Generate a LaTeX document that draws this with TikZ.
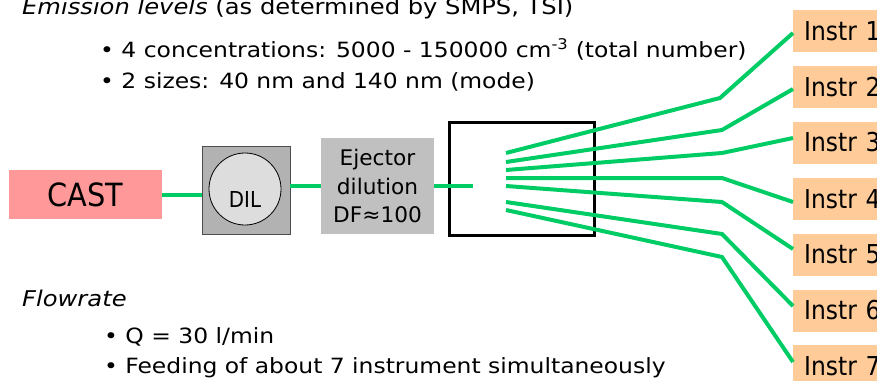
\documentclass[tikz,border=0pt]{standalone}
\usepackage{fontspec}
\setmainfont{DejaVu Sans Condensed}
\newfontfamily\widefont{DejaVu Sans Condensed}[FakeStretch=1.24]
\newfontfamily\midfont{DejaVu Sans Condensed}[FakeStretch=1.12]
\definecolor{pipe}{RGB}{0,204,102}
\definecolor{castpink}{RGB}{255,153,153}
\definecolor{dilgray}{RGB}{178,178,178}
\definecolor{circgray}{RGB}{221,221,221}
\definecolor{ejgray}{RGB}{192,192,192}
\definecolor{instrcol}{RGB}{255,204,153}
\tikzset{
  pipeline/.style={draw=pipe, line width=4pt},
  txt/.style={anchor=base west, inner sep=0pt, font=\widefont\fontsize{21}{24}\selectfont},
  instrbox/.style={fill=instrcol, anchor=west, minimum width=95pt, minimum height=42pt,
     text width=95pt, align=left, inner xsep=0pt, inner ysep=0pt,
     font=\fontsize{26}{28}\selectfont},
}
\begin{document}
\begin{tikzpicture}[x=1pt,y=-1pt]
\useasboundingbox (0,0) rectangle (877,380);
% texts
\node[txt, font=\widefont\fontsize{21.7}{24}\selectfont] (t1) at (22,14) {\textit{Emission levels} (as determined by SMPS, TSI)};
\node[txt] (b1) at (100,57) {\textbullet\ 4 concentrations: 5000 - 150000 cm\textsuperscript{-3} (total number)};
\node[txt] (b2) at (100,88) {\textbullet\ 2 sizes: 40 nm and 140 nm (mode)};
\node[txt, font=\widefont\fontsize{21.7}{24}\selectfont] (t2) at (22,306) {\textit{Flowrate}};
\node[txt] (b3) at (104,343) {\textbullet\ Q = 30 l/min};
\node[txt] (b4) at (104,373) {\textbullet\ Feeding of about 7 instrument simultaneously};
% boxes
\node[fill=castpink, minimum width=153pt, minimum height=49pt, font=\fontsize{32}{34}\selectfont] (cast) at (85.5,194.5) {CAST};
\node[fill=dilgray, draw=black!70, line width=0.8pt, minimum width=88pt, minimum height=88pt] (dil) at (246,190) {};
\node[circle, fill=circgray, draw=black, line width=0.8pt, minimum size=72pt] (circ) at (245,189) {};
\node[font=\fontsize{22}{24}\selectfont, inner sep=0pt] (diltxt) at (245,199) {DIL};
\node[fill=ejgray, minimum width=113pt, minimum height=96pt, align=center,
      font=\midfont\fontsize{21.5}{28.5}\selectfont, inner sep=0pt] (ej) at (377.5,186) {Ejector\\dilution\\DF≈100};
\node[draw=black, line width=3pt, minimum width=145pt, minimum height=113pt, inner sep=0pt] (hub) at (521.5,178.5) {};
% instruments
\node[instrbox] (i1) at (793,31) {\hspace*{11pt}Instr 1};
\node[instrbox] (i2) at (793,87) {\hspace*{11pt}Instr 2};
\node[instrbox] (i3) at (793,142.5) {\hspace*{11pt}Instr 3};
\node[instrbox] (i4) at (793,199) {\hspace*{11pt}Instr 4};
\node[instrbox] (i5) at (793,254.5) {\hspace*{11pt}Instr 5};
\node[instrbox] (i6) at (793,310.5) {\hspace*{11pt}Instr 6};
\node[instrbox] (i7) at (793,366) {\hspace*{11pt}Instr 7};
% pipes
\draw[pipeline] (cast.east) -- (dil.west |- cast.east);
\draw[pipeline] (dil.east |- 0,186) -- (ej.west |- 0,186);
\coordinate (inlet) at (473,186);
\draw[pipeline] (ej.east |- 0,186) -- (inlet);
\coordinate (f1) at (506,153);
\coordinate (f2) at (506,162);
\coordinate (f3) at (506,170);
\coordinate (f4) at (506,178);
\coordinate (f5) at (506,186);
\coordinate (f6) at (506,202);
\coordinate (f7) at (506,210);
\draw[pipeline] (f1) -- (720,98) -- ([yshift=-2pt]i1.west);
\draw[pipeline] (f2) -- (722,130) -- ([yshift=-2pt]i2.west);
\draw[pipeline] (f3) -- (722,153) -- ([yshift=4.5pt]i3.west);
\draw[pipeline] (f4) -- (722,178) -- ([yshift=-3pt]i4.west);
\draw[pipeline] (f5) -- (722,202) -- ([yshift=5.5pt]i5.west);
\draw[pipeline] (f6) -- (722,234) -- ([yshift=4.5pt]i6.west);
\draw[pipeline] (f7) -- (722,257) -- ([yshift=4pt]i7.west);
\end{tikzpicture}
\end{document}
